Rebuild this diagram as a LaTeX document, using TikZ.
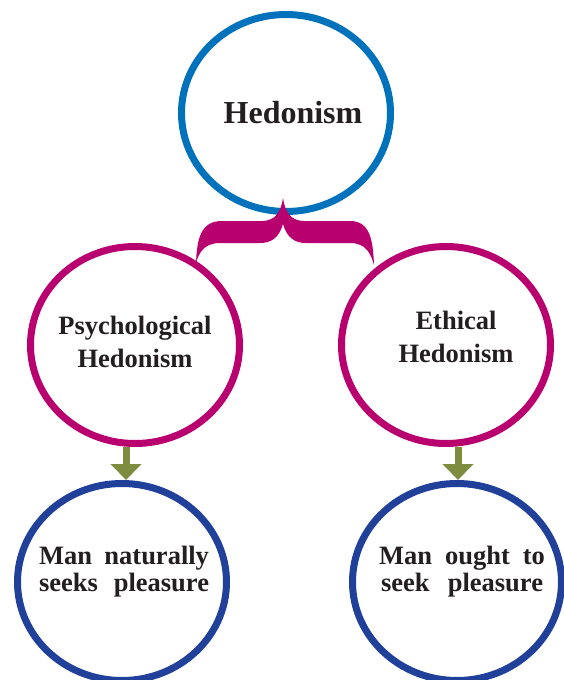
\documentclass[tikz,border=0pt]{standalone}
\usepackage{fontspec}
\setmainfont{Liberation Serif}
\usetikzlibrary{shapes.geometric,arrows.meta}
\definecolor{topblue}{RGB}{0,114,188}
\definecolor{magen}{RGB}{184,0,110}
\definecolor{navyblue}{RGB}{33,64,154}
\definecolor{olivegreen}{RGB}{125,140,62}
\definecolor{txt}{RGB}{35,31,32}
\begin{document}
\begin{tikzpicture}[x=1pt,y=-1pt,
  ring/.style={ellipse, draw, line width=7pt, minimum width=209pt, minimum height=197pt, inner sep=0pt},
  lbl/.style={text=txt, align=center, inner sep=0pt, font=\fontsize{26.5}{33}\selectfont\bfseries},
  lblb/.style={text=txt, align=center, inner sep=0pt, font=\fontsize{26.5}{27}\selectfont\bfseries},
  arr/.style={draw=olivegreen, line width=7pt, -{Triangle[width=30pt,length=16pt,fill=olivegreen]}}
]
\useasboundingbox (0,0) rectangle (564,680);
% circles
\node[ring, draw=topblue] (top) at (286,113) {};
\node[ring, draw=magen] (psych) at (135,345) {};
\node[ring, draw=magen] (eth) at (446,345) {};
\node[ring, draw=navyblue] (bl) at (122,582) {};
\node[ring, draw=navyblue] (br) at (457,582) {};
% labels
\node[text=txt, inner sep=0pt, font=\fontsize{32}{36}\selectfont\bfseries] (toplbl) at (293,113) {Hedonism};
\node[lbl] (psychlbl) at (135,342) {Psychological\\Hedonism};
\node[lbl] (ethlbl) at (456,337) {Ethical\\Hedonism};
\node[lblb] (bllbl) at (124,572) {\makebox[170pt][s]{Man naturally}\\\makebox[170pt][s]{seeks pleasure}};
\node[lblb] (brlbl) at (462,572) {\makebox[166pt][s]{Man ought to}\\\makebox[162pt][s]{seek pleasure}};
% brace
\fill[magen] (196,263)
  .. controls (197,240) and (200,221) .. (222,221)
  -- (262,221)
  .. controls (275,221) and (281,212) .. (283,198)
  .. controls (285,212) and (291,221) .. (304,221)
  -- (350,221)
  .. controls (370,221) and (373,240) .. (374,265)
  .. controls (371,255) and (367,243) .. (350,243)
  -- (306,243)
  .. controls (295,243) and (287,238) .. (283,224)
  .. controls (279,238) and (271,243) .. (260,243)
  -- (220,243)
  .. controls (205,243) and (199,252) .. (196,263) -- cycle;
% arrows
\draw[arr] ([xshift=4pt]psych.south -| bl.north) -- ([xshift=4pt]bl.north);
\draw[arr] ([xshift=1pt]eth.south -| br.north) -- ([xshift=1pt]br.north);
\end{tikzpicture}
\end{document}
